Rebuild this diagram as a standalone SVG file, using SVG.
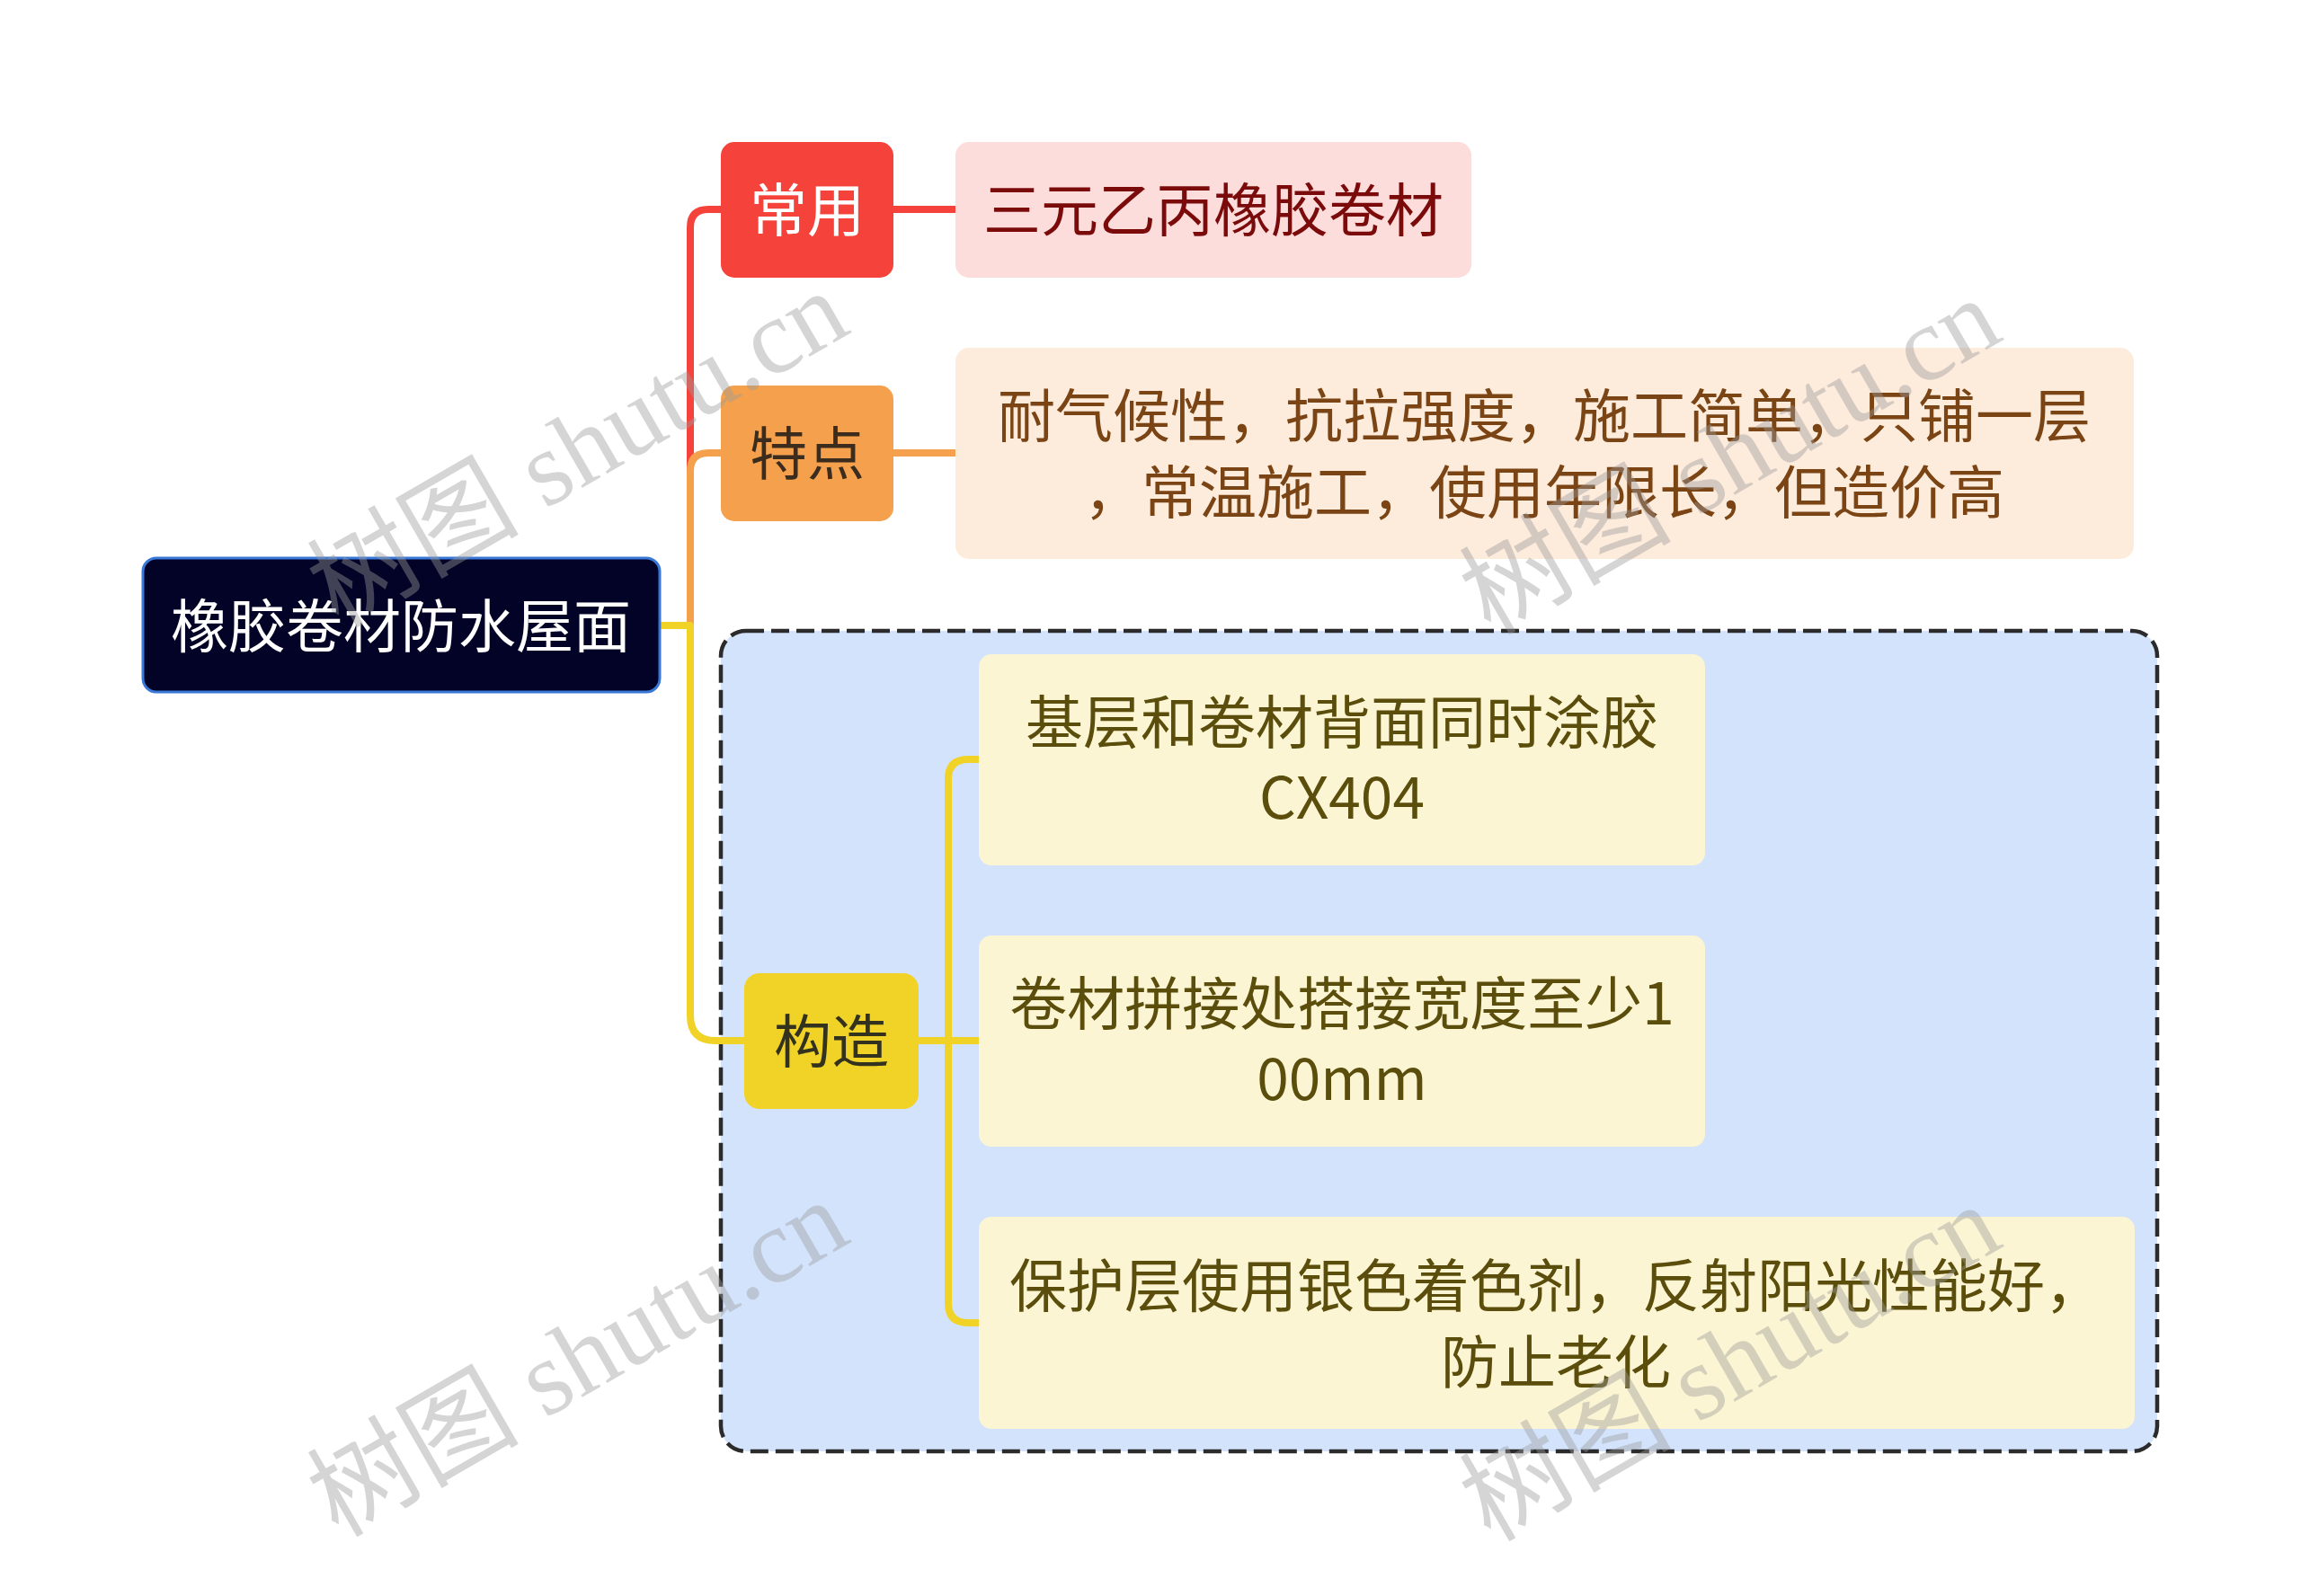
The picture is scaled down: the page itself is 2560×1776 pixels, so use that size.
<svg xmlns="http://www.w3.org/2000/svg" width="2560" height="1776" viewBox="0 0 2560 1776">
<style>
.t{font-family:"Noto Sans CJK SC","Noto Sans",sans-serif;font-size:64px;text-anchor:middle}
.c{fill:none;stroke-width:8;stroke-linecap:butt;stroke-linejoin:round}
.wm{font-family:"Liberation Serif","Noto Sans CJK SC",serif;font-size:118px;fill:#9a9a9a;fill-opacity:0.42}
</style>
<rect width="2560" height="1776" fill="#ffffff"/>
<g id="group-gouzao">
<rect x="802" y="702" width="1598" height="913" rx="28" fill="#d3e3fb" stroke="#2b2b2b" stroke-width="4.5" stroke-dasharray="20 8"/>
</g>
<g id="connectors">
<path class="c" stroke="#f5433b" d="M735,696 H768 V253 Q768,233 788,233 H802"/>
<path class="c" stroke="#f5433b" d="M994,233 H1063"/>
<path class="c" stroke="#f4a04c" d="M735,696 H768 V524 Q768,504 788,504 H802"/>
<path class="c" stroke="#f4a04c" d="M994,504 H1063"/>
<path class="c" stroke="#f0d326" d="M735,696 H768 V1130 Q768,1158 796,1158 H829"/>
<path class="c" stroke="#f0d326" d="M1021,1158 H1089"/>
<path class="c" stroke="#f0d326" d="M1089,845 H1077 Q1055,845 1055,867 V1450 Q1055,1472 1077,1472 H1089"/>
</g>
<g id="root">
<rect x="159" y="621" width="575" height="149" rx="15" fill="#020326" stroke="#3a78d8" stroke-width="3"/>
<text class="t" x="446" y="720" fill="#ffffff">橡胶卷材防水屋面</text>
</g>
<g id="changyong">
<rect x="802" y="158" width="192" height="151" rx="15" fill="#f5433b"/>
<text class="t" x="898" y="257" fill="#ffffff">常用</text>
</g>
<g id="changyong-1">
<rect x="1063" y="158" width="574" height="151" rx="15" fill="#fddcdc"/>
<text class="t" x="1350" y="257" fill="#7b0b0b">三元乙丙橡胶卷材</text>
</g>
<g id="tedian">
<rect x="802" y="429" width="192" height="151" rx="15" fill="#f4a04c"/>
<text class="t" x="898" y="528" fill="#3b2c1e">特点</text>
</g>
<g id="tedian-1">
<rect x="1063" y="387" width="1311" height="235" rx="15" fill="#fdebdc"/>
<text class="t" x="1718" y="486" fill="#7a4414">耐气候性，抗拉强度，施工简单，只铺一层</text>
<text class="t" x="1718" y="571" fill="#7a4414">，常温施工，使用年限长，但造价高</text>
</g>
<g id="gouzao">
<rect x="828" y="1083" width="194" height="151" rx="17" fill="#f0d326"/>
<text class="t" x="925" y="1182" fill="#33321f">构造</text>
</g>
<g id="gouzao-1">
<rect x="1089" y="728" width="808" height="235" rx="14" fill="#fbf5d3"/>
<text class="t" x="1493" y="827" fill="#5b4e0c">基层和卷材背面同时涂胶</text>
<text class="t" x="1493" y="911" fill="#5b4e0c">CX404</text>
</g>
<g id="gouzao-2">
<rect x="1089" y="1041" width="808" height="235" rx="14" fill="#fbf5d3"/>
<text class="t" x="1493" y="1140" fill="#5b4e0c">卷材拼接处搭接宽度至少1</text>
<text class="t" x="1493" y="1224" fill="#5b4e0c">00mm</text>
</g>
<g id="gouzao-3">
<rect x="1089" y="1354" width="1286" height="236" rx="14" fill="#fbf5d3"/>
<text class="t" x="1731" y="1454" fill="#5b4e0c">保护层使用银色着色剂，反射阳光性能好，</text>
<text class="t" x="1731" y="1539" fill="#5b4e0c">防止老化</text>
</g>
<g id="watermarks">
<text class="wm" transform="translate(643,500) rotate(-30)" text-anchor="middle" dominant-baseline="central">树图 shutu.cn</text>
<text class="wm" transform="translate(1925,508) rotate(-30)" text-anchor="middle" dominant-baseline="central">树图 shutu.cn</text>
<text class="wm" transform="translate(643,1512) rotate(-30)" text-anchor="middle" dominant-baseline="central">树图 shutu.cn</text>
<text class="wm" transform="translate(1925,1517) rotate(-30)" text-anchor="middle" dominant-baseline="central">树图 shutu.cn</text>
</g>
</svg>
